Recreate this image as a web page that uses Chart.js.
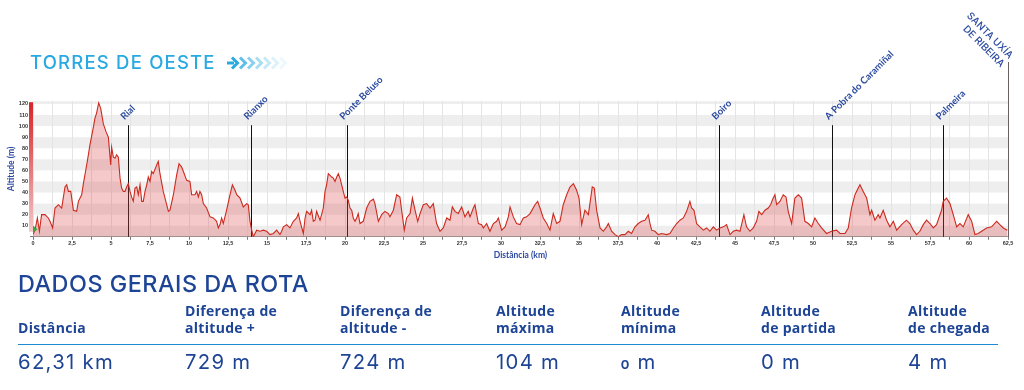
<!DOCTYPE html>
<html><head><meta charset="utf-8">
<script src="https://cdn.jsdelivr.net/npm/chart.js@4.4.1/dist/chart.umd.min.js"></script>
<style>
html,body{margin:0;padding:0;background:#fff;}
#wrap{position:relative;width:1024px;height:390px;overflow:hidden;}
#c{position:absolute;left:0;top:0;}
.t{position:absolute;white-space:nowrap;}
#title{left:30px;top:52.5px;font:500 18.5px/1 Inter,sans-serif;color:#29a9e1;letter-spacing:1.2px;}
#arrows{position:absolute;left:226px;top:55px;}
#sub{left:18px;top:271.8px;font:500 23.4px/1 Inter,sans-serif;color:#1d4495;letter-spacing:0.5px;}
.h{top:301.6px;font:700 14px/17.3px "Open Sans",sans-serif;color:#1d4495;letter-spacing:0.3px;}
.v{top:351.5px;font:400 20.3px/1 Inter,sans-serif;color:#1d4495;letter-spacing:1.3px;}
.v .old{font:700 15px/1 Lato,sans-serif;font-variant-numeric:oldstyle-nums;}
#rule{position:absolute;left:18px;top:343.5px;width:980px;height:1.5px;background:#1e8ad2;}
</style></head>
<body><div id="wrap">
<canvas id="c" width="1024" height="390"></canvas>
<div class="t" id="title">TORRES DE OESTE</div>
<svg id="arrows" width="62" height="16" viewBox="0 0 62 16">
  <rect x="1" y="6.5" width="7" height="3" fill="#29a9e1"/>
  <polyline points="6,2.5 11.5,8 6,13.5" fill="none" stroke="#29a9e1" stroke-width="3"/>
  <polyline points="14,2.5 19.5,8 14,13.5" fill="none" stroke="#29a9e1" stroke-opacity="0.75" stroke-width="3"/>
  <polyline points="22,2.5 27.5,8 22,13.5" fill="none" stroke="#29a9e1" stroke-opacity="0.55" stroke-width="3"/>
  <polyline points="30,2.5 35.5,8 30,13.5" fill="none" stroke="#29a9e1" stroke-opacity="0.4" stroke-width="3"/>
  <polyline points="38,2.5 43.5,8 38,13.5" fill="none" stroke="#29a9e1" stroke-opacity="0.27" stroke-width="3"/>
  <polyline points="46,2.5 51.5,8 46,13.5" fill="none" stroke="#29a9e1" stroke-opacity="0.16" stroke-width="3"/>
  <polyline points="54,2.5 59.5,8 54,13.5" fill="none" stroke="#29a9e1" stroke-opacity="0.08" stroke-width="3"/>
</svg>
<div class="t" id="sub">DADOS GERAIS DA ROTA</div>
<div id="rule"></div>
</div>
<script>
// ---- data ----
const distanceKm = [0.00,0.13,0.28,0.41,0.55,0.77,0.98,1.09,1.26,1.41,1.63,1.84,2.05,2.16,2.27,2.42,2.59,2.80,2.91,3.12,3.23,3.48,3.65,3.87,3.97,4.08,4.21,4.34,4.51,4.68,4.83,4.98,5.04,5.15,5.26,5.36,5.47,5.58,5.68,5.79,5.90,6.00,6.11,6.22,6.32,6.43,6.54,6.65,6.75,6.86,6.97,7.07,7.18,7.29,7.39,7.50,7.61,7.71,7.93,8.03,8.14,8.35,8.57,8.68,8.78,9.00,9.21,9.36,9.53,9.64,9.85,10.06,10.17,10.38,10.49,10.60,10.70,10.81,10.92,11.13,11.35,11.56,11.77,11.88,11.99,12.09,12.20,12.41,12.63,12.78,12.95,13.06,13.27,13.48,13.70,13.80,13.91,14.02,14.12,14.23,14.34,14.55,14.77,14.98,15.19,15.41,15.62,15.83,15.94,16.05,16.26,16.47,16.69,16.90,17.01,17.12,17.33,17.44,17.54,17.76,17.86,17.97,18.08,18.18,18.40,18.61,18.72,18.82,18.93,19.15,19.25,19.36,19.47,19.57,19.68,19.89,20.00,20.11,20.21,20.32,20.43,20.53,20.64,20.75,20.85,20.96,21.17,21.39,21.60,21.82,21.92,22.14,22.35,22.56,22.78,22.88,23.10,23.31,23.52,23.63,23.80,23.95,24.17,24.32,24.49,24.66,24.81,25.02,25.23,25.45,25.66,25.87,26.09,26.30,26.52,26.73,26.88,27.05,27.26,27.48,27.69,27.90,28.01,28.23,28.33,28.55,28.76,28.87,29.08,29.29,29.51,29.72,29.83,30.04,30.26,30.47,30.58,30.79,31.00,31.22,31.43,31.64,31.86,32.18,32.35,32.50,32.71,32.93,33.14,33.35,33.57,33.78,33.99,34.21,34.42,34.64,34.85,35.00,35.17,35.38,35.60,35.85,35.98,36.13,36.35,36.56,36.77,36.88,37.09,37.31,37.52,37.73,37.95,38.16,38.37,38.59,38.80,39.02,39.23,39.44,39.55,39.66,39.87,40.08,40.30,40.62,40.83,41.05,41.26,41.47,41.69,41.90,42.11,42.22,42.37,42.54,42.75,42.97,43.18,43.39,43.61,43.82,44.03,44.25,44.46,44.68,44.89,45.10,45.32,45.57,45.74,45.96,46.17,46.38,46.53,46.71,46.92,47.13,47.28,47.45,47.56,47.67,47.88,48.09,48.27,48.41,48.63,48.84,49.06,49.27,49.48,49.70,49.91,50.12,50.34,50.55,50.87,51.19,51.51,51.73,52.05,52.26,52.47,52.69,52.90,53.01,53.22,53.44,53.65,53.76,53.97,54.18,54.29,54.50,54.72,54.93,55.15,55.36,55.68,55.99,56.21,56.43,56.64,56.85,57.07,57.28,57.50,57.71,57.92,58.24,58.35,58.56,58.78,58.99,59.21,59.42,59.63,59.95,60.17,60.38,60.59,60.81,61.13,61.45,61.77,61.98,62.20,62.45];
const altitudeM = [2,6,17,5,20,20,17,14,8,26,29,26,45,47,41,41,24,23,32,38,48,68,83,99,107,112,121,116,102,95,90,65,81,72,71,74,72,53,44,41,41,45,48,41,36,32,44,45,38,47,32,32,41,47,54,50,59,57,65,68,57,41,29,23,24,38,56,66,63,59,51,50,38,38,41,36,41,38,30,26,18,17,14,8,11,17,12,24,38,47,42,38,35,27,30,29,14,6,0,3,6,5,6,5,2,3,6,2,5,9,11,8,14,17,21,14,3,17,23,20,24,14,15,23,15,26,41,47,57,54,53,50,54,57,53,41,35,36,33,26,24,17,14,17,21,12,14,26,32,34,30,14,20,23,21,18,24,38,36,24,6,17,21,35,24,14,21,29,30,26,30,12,5,8,17,15,27,23,21,27,18,23,18,26,29,12,11,8,12,5,12,14,17,6,9,18,27,18,12,11,17,18,21,29,32,26,17,12,6,21,12,14,29,38,45,48,42,35,11,24,20,45,44,24,8,5,9,12,5,2,0,2,2,5,3,9,12,14,15,20,12,6,5,2,3,2,3,8,12,15,17,23,32,26,24,12,9,6,8,5,9,6,8,9,11,2,5,6,5,20,9,5,8,14,23,20,24,26,29,35,38,29,32,38,36,23,12,35,38,35,14,12,9,17,12,8,3,5,6,3,3,8,26,38,44,47,41,35,20,24,15,20,17,24,15,9,14,6,11,15,12,6,2,5,11,15,12,8,11,24,32,35,30,20,9,12,9,20,14,2,3,5,8,9,14,11,8,6];
const waypointNames = ['Rial','Rianxo','Ponte Beluso','Boiro','A Pobra do Caramiñal','Palmeira'];
const waypointKm = [6.09,13.99,20.13,43.99,51.24,58.35];
const finishNameLines = ['SANTA UXÍA','DE RIBEIRA'];
const finishKm = 62.48;
const xAxisMax = 62.5, xTickStep = 1.25, xLabelStep = 2.5;
const yAxisMax = 122.5, yTickStep = 10;
const statHeaders = ['\u00a0\nDistância','Diferença de\naltitude +','Diferença de\naltitude -','Altitude\nmáxima','Altitude\nmínima','Altitude\nde partida','Altitude\nde chegada'];
const statValues = ['62,31 km','729 m','724 m','104 m','0 m','0 m','4 m'];

// ---- table ----
const columnLeft = [18,185,340,496,621,761,908];
const wrap = document.getElementById('wrap');
statHeaders.forEach((h,i)=>{
  const d=document.createElement('div'); d.className='t h'; d.style.left=columnLeft[i]+'px';
  d.innerHTML=h.split('\n').join('<br>'); wrap.appendChild(d);
  const v=document.createElement('div'); v.className='t v'; v.style.left=columnLeft[i]+'px';
  if(i===4){ const p=statValues[i].split(' '); v.innerHTML='<span class="old">'+p[0]+'</span> '+p[1]; }
  else v.textContent=statValues[i];
  wrap.appendChild(v);
});

// ---- chart ----
const blue='#2b4aa0';
const profilePlugin={
  id:'profile',
  beforeDraw(chart){
    const {ctx,chartArea:a,scales:{y}}=chart;
    ctx.save(); ctx.fillStyle='#eeeeee';
    for(let v=0; v<y.max; v+=2*yTickStep){
      const t=y.getPixelForValue(Math.min(v+yTickStep,y.max)), b=y.getPixelForValue(v);
      ctx.fillRect(a.left,t,a.right-a.left,b-t);
    }
    ctx.restore();
  },
  beforeDatasetsDraw(chart){
    const {ctx,chartArea:a,scales:{x}}=chart;
    ctx.save(); ctx.lineWidth=1;
    ctx.strokeStyle='#111';
    waypointKm.forEach(k=>{
      const px=Math.round(x.getPixelForValue(k))+0.5;
      ctx.beginPath(); ctx.moveTo(px,a.top+24); ctx.lineTo(px,a.bottom); ctx.stroke();
    });
    ctx.strokeStyle='#6a6060';
    const fx=Math.round(x.getPixelForValue(finishKm))+0.5;
    ctx.beginPath(); ctx.moveTo(fx,62); ctx.lineTo(fx,a.bottom); ctx.stroke();
    ctx.restore();
  },
  afterDraw(chart){
    const {ctx,chartArea:a,scales:{x,y}}=chart;
    ctx.save();
    // waypoint labels
    ctx.fillStyle=blue; ctx.font='700 9.6px Lato, sans-serif'; ctx.textAlign='left'; ctx.textBaseline='alphabetic';
    waypointNames.forEach((n,i)=>{
      const px=x.getPixelForValue(waypointKm[i]);
      ctx.save(); ctx.translate(px-3.5,a.top+19); ctx.rotate(-Math.PI/4); ctx.fillText(n,0,0); ctx.restore();
    });
    // finish label
    const fx=x.getPixelForValue(finishKm);
    ctx.font='500 10px Inter, sans-serif'; ctx.textAlign='right';
    ctx.save(); ctx.translate(fx,62); ctx.rotate(Math.PI/4);
    ctx.fillText(finishNameLines[0],-1,-3); ctx.fillText(finishNameLines[1],-1,9);
    ctx.restore();
    // red altitude bar
    const g=ctx.createLinearGradient(0,a.top,0,a.bottom);
    g.addColorStop(0,'#d8242a'); g.addColorStop(0.15,'#db3a3e'); g.addColorStop(0.5,'#e4787b'); g.addColorStop(1,'#f4cfcf');
    ctx.fillStyle=g; ctx.fillRect(a.left-4,a.top+1,4,a.bottom-a.top-6);
    // start marker
    ctx.fillStyle='#3aa53a';
    ctx.beginPath(); ctx.moveTo(a.left,a.bottom-11); ctx.lineTo(a.left+4.5,a.bottom-7.5); ctx.lineTo(a.left,a.bottom-4); ctx.closePath(); ctx.fill();
    ctx.restore();
  }
};

const fmt = v => String(+v.toFixed(2)).replace('.',',');
new Chart(document.getElementById('c'),{
  type:'line',
  data:{datasets:[{
    data:distanceKm.map((k,i)=>({x:k,y:altitudeM[i]})),
    borderColor:'#cc2a1e', borderWidth:1.1, pointRadius:0, tension:0,
    fill:'origin', backgroundColor:'rgba(222,75,75,0.3)'
  }]},
  options:{
    responsive:false, animation:false, events:[],
    layout:{padding:{left:0,right:16,top:101.2,bottom:129.2}},
    plugins:{legend:{display:false},tooltip:{enabled:false}},
    scales:{
      x:{type:'linear',min:0,max:xAxisMax,
        afterFit(s){s.height=24;},
        ticks:{stepSize:xTickStep,autoSkip:false,maxRotation:0,padding:0,color:'#333',font:{size:5.5,weight:'bold',family:'Liberation Sans'},
          callback:v=>Math.abs(v/xLabelStep-Math.round(v/xLabelStep))<1e-6?fmt(v):''},
        grid:{color:'#e4e4e4',tickLength:3,tickColor:'#777'},
        border:{color:'#999'},
        title:{display:true,text:'Distância (km)',color:blue,font:{size:8.5,weight:'bold',family:'Lato'},padding:{top:0,bottom:0}}
      },
      y:{min:0,max:yAxisMax,
        afterFit(s){s.width=33;},
        afterBuildTicks(s){const t=[]; for(let v=0; v<=s.max; v+=yTickStep) t.push({value:v}); s.ticks=t;},
        ticks:{stepSize:yTickStep,autoSkip:false,padding:2,color:'#333',font:{size:5.5,weight:'bold',family:'Liberation Sans'},
          callback:v=>v>0?v:''},
        grid:{drawOnChartArea:false,tickLength:3,tickColor:'#777'},
        border:{display:false},
        title:{display:true,text:'Altitude (m)',color:blue,font:{size:8.5,weight:'bold',family:'Lato'},padding:{top:5.75,bottom:0}}
      }
    }
  },
  plugins:[profilePlugin]
});
</script>
</body></html>
